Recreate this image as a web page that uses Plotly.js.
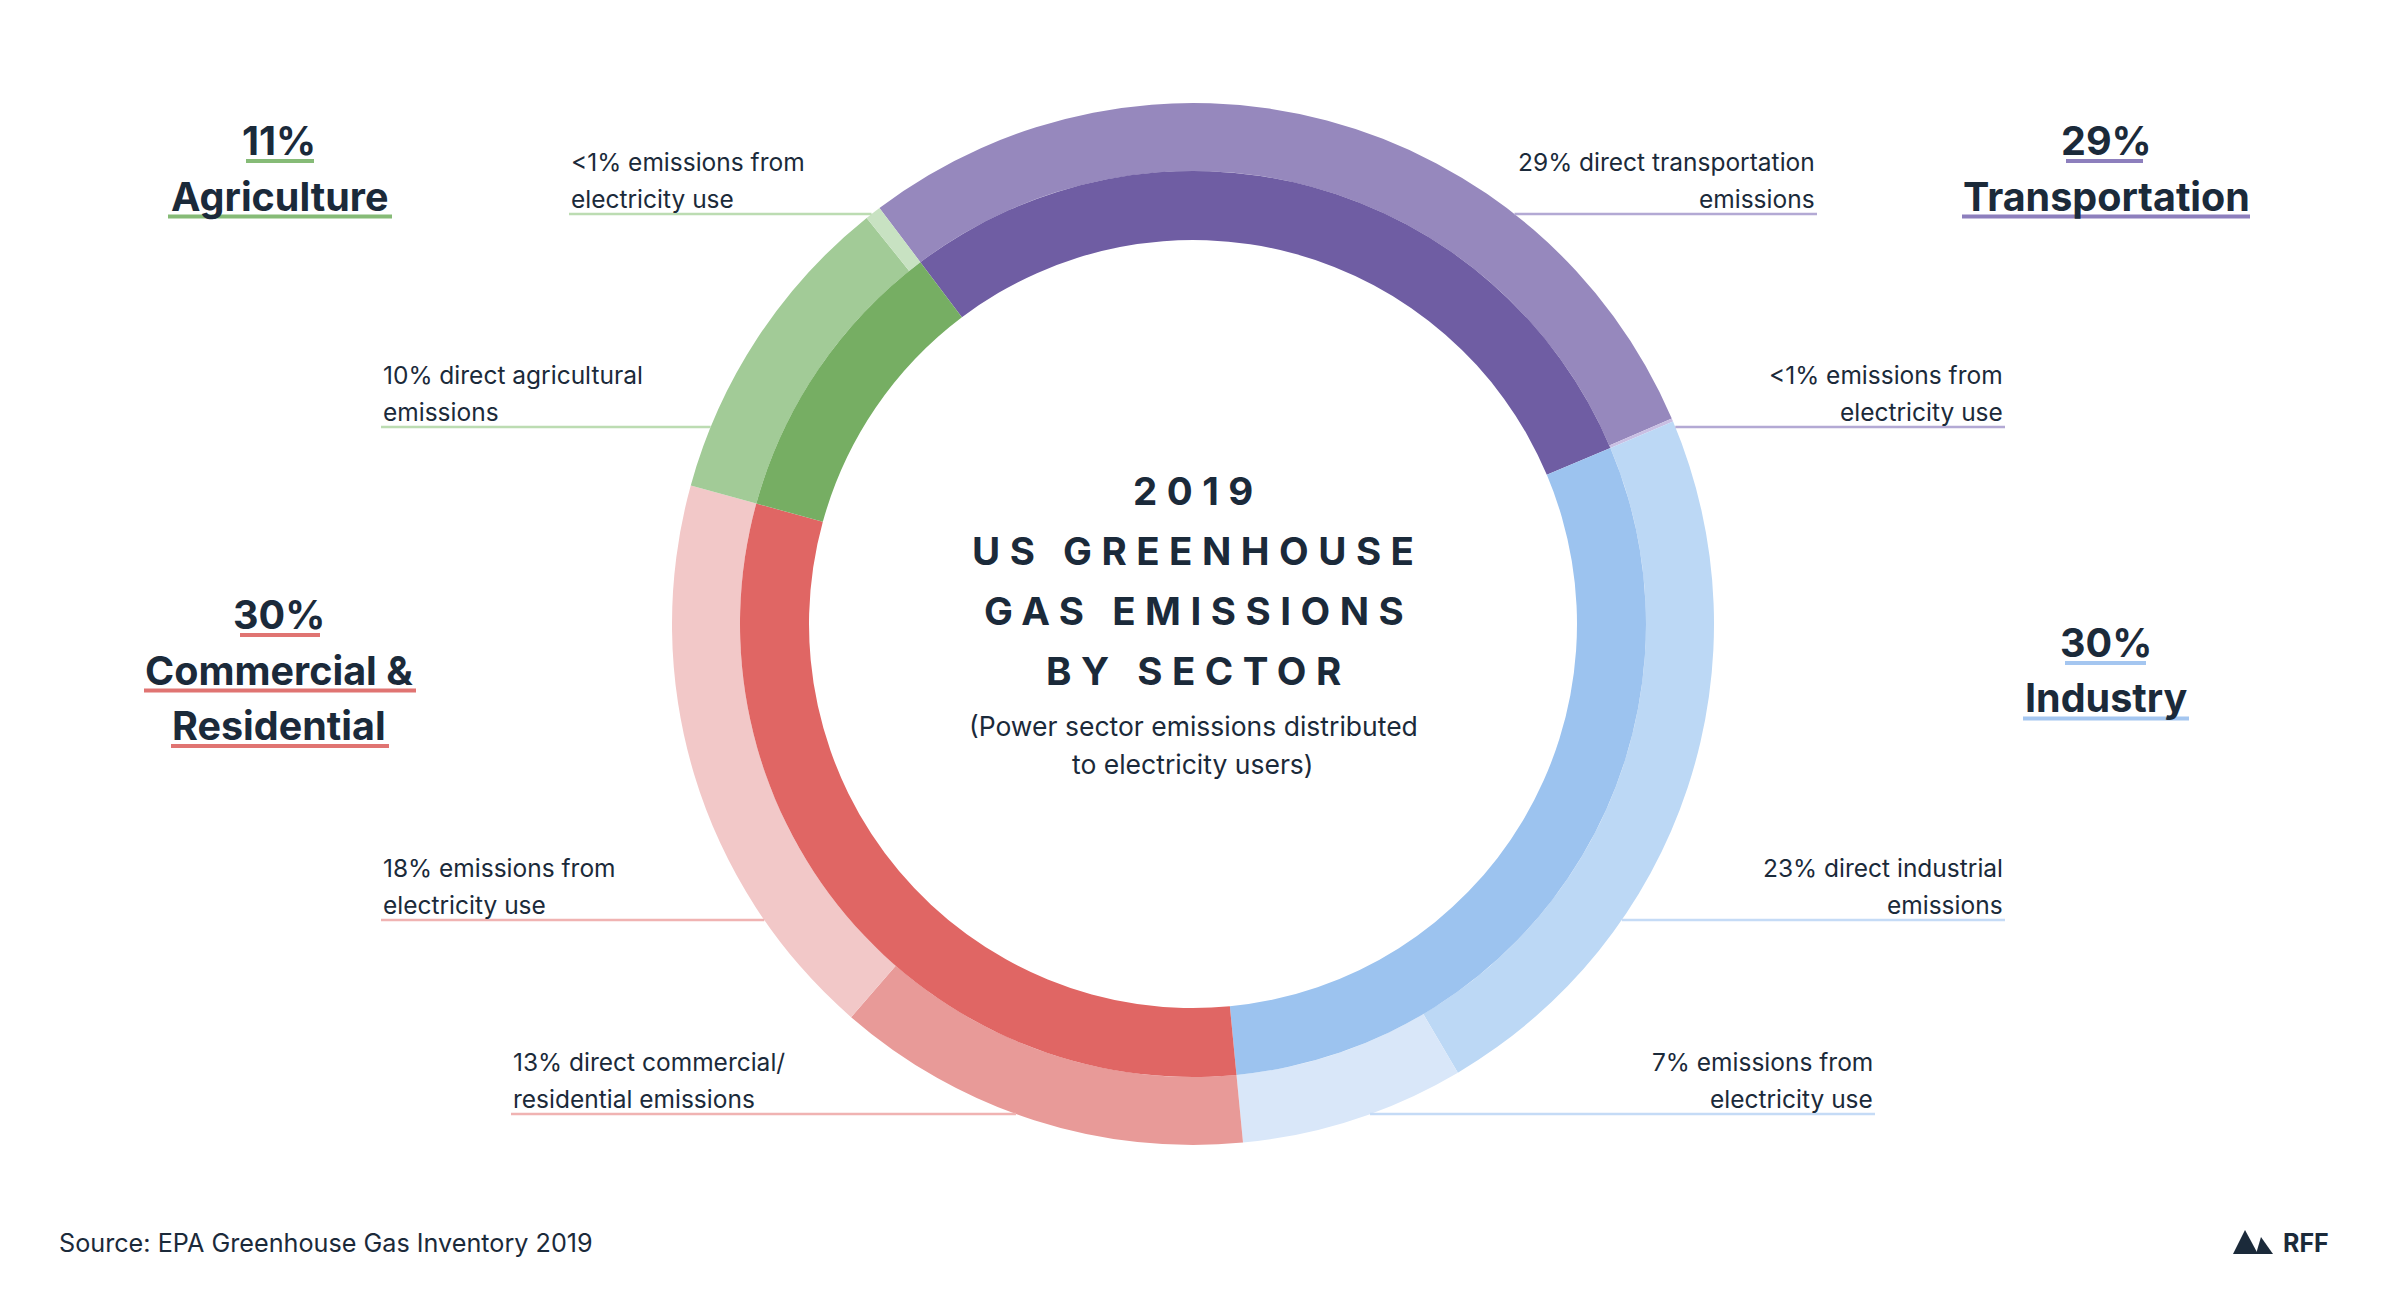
<!DOCTYPE html>
<html>
<head>
<meta charset="utf-8">
<script src="https://cdn.plot.ly/plotly-3.0.1.min.js"></script>
<style>
  html, body { margin: 0; padding: 0; background: #ffffff; }
  #chart { width: 2400px; height: 1310px; }
</style>
</head>
<body>
<div id="chart"></div>
<script>
// ---------------- DATA ----------------
const sectors = ['Transportation', 'Industry', 'Commercial & Residential', 'Agriculture'];
const sectorLabelPct = ['29%', '30%', '30%', '11%'];

// outer ring: sub-categories (% of total)
const subLabels = [
  'Transportation: direct transportation emissions',
  'Transportation: emissions from electricity use',
  'Industry: direct industrial emissions',
  'Industry: emissions from electricity use',
  'Commercial & Residential: direct commercial/residential emissions',
  'Commercial & Residential: emissions from electricity use',
  'Agriculture: direct agricultural emissions',
  'Agriculture: emissions from electricity use'
];
const subValues = [29, 0.1, 23, 7, 13, 18, 10, 0.5];
const subParent = [0, 0, 1, 1, 2, 2, 3, 3];
const subText = [
  ['29% direct transportation', 'emissions'],
  ['<1% emissions from', 'electricity use'],
  ['23% direct industrial', 'emissions'],
  ['7% emissions from', 'electricity use'],
  ['13% direct commercial/', 'residential emissions'],
  ['18% emissions from', 'electricity use'],
  ['10% direct agricultural', 'emissions'],
  ['<1% emissions from', 'electricity use']
];

// ---------------- STYLE ----------------
const W = 2400, H = 1310;
const CX = 1193, CY = 624;
const R_OUT = 521, R_MID = 453, R_HOLE = 384;
const ROT = -37;
const NAVY = '#1b2a3a';
const FONT = 'Inter, "Open Sans", sans-serif';

const innerColors = ['#6f5da3', '#9cc3ef', '#e06664', '#76ae63'];
const outerColors = ['#9688bd', '#c9bfe3', '#bcd8f5', '#d9e7f9', '#e89a98', '#f2c8c8', '#a2cb97', '#c8e2c2'];
const bigLineColors = ['#8d7fbd', '#a4c6f0', '#e07472', '#86bb77'];
const smallLineColors = ['#b3a9d4', '#b3a9d4', '#c5dbf6', '#c5dbf6', '#f0b3b2', '#f0b3b2', '#bcdcb2', '#bcdcb2'];

// inner ring values built from the outer ring
const innerValues = sectors.map((s, i) =>
  subValues.reduce((acc, v, j) => acc + (subParent[j] === i ? v : 0), 0));

function dom(r) {
  return { x: [(CX - r) / W, (CX + r) / W], y: [1 - (CY + r) / H, 1 - (CY - r) / H] };
}
const px = x => x / W;
const py = y => 1 - y / H;

const traces = [
  {
    type: 'pie', values: subValues, labels: subLabels, sort: false,
    direction: 'clockwise', rotation: ROT, hole: R_MID / R_OUT,
    domain: dom(R_OUT), marker: { colors: outerColors, line: { width: 0 } },
    textinfo: 'none', hoverinfo: 'label+value', showlegend: false
  },
  {
    type: 'pie', values: innerValues, labels: sectors, sort: false,
    direction: 'clockwise', rotation: ROT, hole: R_HOLE / R_MID,
    domain: dom(R_MID), marker: { colors: innerColors, line: { width: 0 } },
    textinfo: 'none', hoverinfo: 'label+value', showlegend: false
  }
];

const annotations = [];
const shapes = [];
function ann(text, x, y, size, xanchor, weight) {
  annotations.push({
    text: text, xref: 'paper', yref: 'paper', x: px(x), y: py(y),
    xanchor: xanchor, yanchor: 'middle', showarrow: false,
    font: { family: FONT, size: size, color: NAVY, weight: weight || 400 }
  });
}
function hline(x0, x1, y, color, width) {
  shapes.push({
    type: 'line', xref: 'paper', yref: 'paper',
    x0: px(x0), x1: px(x1), y0: py(y), y1: py(y),
    line: { color: color, width: width }
  });
}

// big sector labels
const bigLabels = [
  { s: 3, x: 279, y: 141, lines: [sectorLabelPct[3], 'Agriculture'], ul: [[246, 314], [168, 392]] },
  { s: 0, x: 2106, y: 141, lines: [sectorLabelPct[0], 'Transportation'], ul: [[2066, 2143], [1962, 2250]] },
  { s: 2, x: 279, y: 615, lines: [sectorLabelPct[2], 'Commercial &', 'Residential'], ul: [[240, 320], [144, 416], [171, 389]] },
  { s: 1, x: 2106, y: 643, lines: [sectorLabelPct[1], 'Industry'], ul: [[2065, 2146], [2023, 2189]] }
];
bigLabels.forEach(b => {
  b.lines.forEach((t, k) => {
    const y = b.y + k * 55.5;
    ann(t, b.x, y, 39.5, 'center', 700);
    hline(b.ul[k][0], b.ul[k][1], y + 20, bigLineColors[b.s], 4);
  });
});

// small labels
const smallPos = [
  { i: 0, x: 1817, y: 162, side: 'right' },
  { i: 1, x: 2005, y: 375, side: 'right' },
  { i: 2, x: 2005, y: 868, side: 'right' },
  { i: 3, x: 1875, y: 1062, side: 'right' },
  { i: 4, x: 511, y: 1062, side: 'left' },
  { i: 5, x: 381, y: 868, side: 'left' },
  { i: 6, x: 381, y: 375, side: 'left' },
  { i: 7, x: 569, y: 162, side: 'left' }
];
smallPos.forEach(p => {
  const lines = subText[p.i];
  lines.forEach((t, k) => ann(t, p.x, p.y + k * 37, 24.5, p.side, 400));
  const ly = p.y + 52;
  const dx = Math.sqrt(Math.max(0, R_OUT * R_OUT - (CY - ly) * (CY - ly)));
  if (p.side === 'left') hline(p.x, CX - dx, ly, smallLineColors[p.i], 2.5);
  else hline(CX + dx, p.x, ly, smallLineColors[p.i], 2.5);
});

// center title
const titleLines = ['2019', 'US GREENHOUSE', 'GAS EMISSIONS', 'BY SECTOR'];
titleLines.forEach((t, k) => {
  ann('<span style="letter-spacing:9.5px">' + t + '</span>', CX + 5, 491 + k * 60, 38.5, 'center', 700);
});
ann('(Power sector emissions distributed', CX, 726, 26.5, 'center', 400);
ann('to electricity users)', CX, 764, 26.5, 'center', 400);

// footer
ann('Source: EPA Greenhouse Gas Inventory 2019', 57, 1243, 25.2, 'left', 400);
ann('RFF', 2281, 1243, 25, 'left', 700);

// RFF mountain mark
function pth(pts) {
  return 'M' + pts.map(p => px(p[0]).toFixed(5) + ',' + py(p[1]).toFixed(5)).join(' L') + ' Z';
}
shapes.push({ type: 'path', xref: 'paper', yref: 'paper', line: { width: 0 }, fillcolor: NAVY,
  path: pth([[2233, 1254], [2245, 1230], [2258, 1254]]) });
shapes.push({ type: 'path', xref: 'paper', yref: 'paper', line: { width: 0 }, fillcolor: NAVY,
  path: pth([[2256, 1254], [2261, 1237], [2273, 1254]]) });

const layout = {
  width: W, height: H,
  margin: { l: 0, r: 0, t: 0, b: 0, pad: 0 },
  paper_bgcolor: '#ffffff', plot_bgcolor: '#ffffff',
  showlegend: false,
  annotations: annotations,
  shapes: shapes
};

Plotly.newPlot('chart', traces, layout, { displayModeBar: false, staticPlot: true });
</script>
</body>
</html>
